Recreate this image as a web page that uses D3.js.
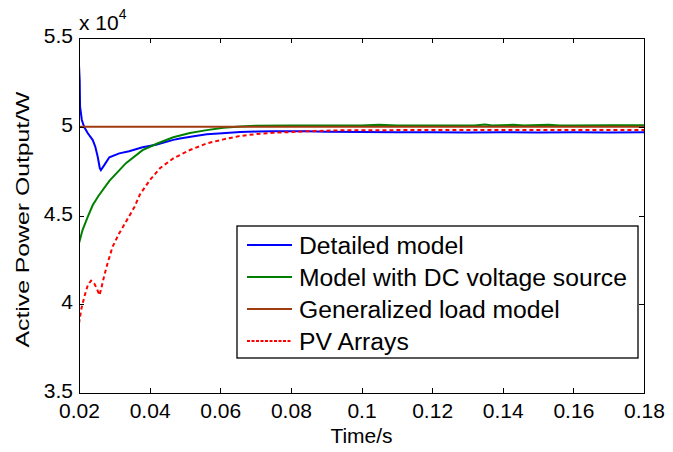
<!DOCTYPE html>
<html>
<head>
<style>
  body { margin: 0; background: #fff; }
  text { font-family: "Liberation Sans", Arial, sans-serif; fill: #000; }
  .axis path, .axis line { stroke: #000; shape-rendering: crispEdges; }
</style>
</head>
<body>
<script src="https://cdnjs.cloudflare.com/ajax/libs/d3/7.8.5/d3.min.js"></script>
<script>
// values (time in s, power in W)
var xTicks = [0.02, 0.04, 0.06, 0.08, 0.1, 0.12, 0.14, 0.16, 0.18];
var yTicks = [35000, 40000, 45000, 50000, 55000];
var yTickLabels = ["3.5", "4", "4.5", "5", "5.5"];

var detailed = [[0.02,53480],[0.0202,52600],[0.0203,51130],[0.0208,50380],[0.0215,49970],[0.0225,49630],
  [0.0239,49250],[0.0246,48880],[0.0253,48310],[0.0259,47660],[0.0262,47560],[0.0272,47850],[0.0286,48280],
  [0.0314,48500],[0.0342,48620],[0.038,48840],[0.0418,48990],[0.0467,49260],[0.0486,49340],[0.0525,49460],
  [0.0562,49580],[0.0606,49640],[0.0656,49700],[0.0705,49730],[0.075,49750],[0.0845,49740],[0.09,49720],
  [0.1,49700],[0.11,49690],[0.12,49690],[0.13,49680],[0.14,49690],[0.15,49680],[0.16,49690],[0.17,49680],[0.18,49690]];

var dcSource = [[0.02,43430],[0.021,44180],[0.0225,44930],[0.0239,45590],[0.0255,46100],[0.0286,46950],
  [0.0333,47950],[0.038,48680],[0.042,49040],[0.0467,49410],[0.0514,49650],[0.0562,49810],[0.0609,49940],
  [0.0656,50010],[0.07,50050],[0.08,50070],[0.09,50070],[0.1,50070],[0.105,50110],[0.11,50070],[0.12,50070],
  [0.132,50070],[0.135,50120],[0.137,50070],[0.143,50110],[0.146,50070],[0.153,50110],[0.156,50070],
  [0.16,50070],[0.17,50080],[0.18,50080]];

var loadModel = [[0.02,50000],[0.18,50000]];

var pvArrays = [[0.02,38920],[0.0206,39680],[0.0215,40420],[0.0225,41080],[0.0234,41330],[0.0243,41180],
  [0.025,40900],[0.0258,40520],[0.0262,40800],[0.0272,41650],[0.0281,42310],[0.0295,43240],[0.0314,44000],
  [0.0333,44650],[0.0357,45480],[0.0373,46200],[0.0401,47000],[0.0429,47660],[0.0467,48220],[0.0514,48690],
  [0.0562,49060],[0.0609,49290],[0.0656,49480],[0.0703,49590],[0.075,49660],[0.0845,49740],[0.094,49800],
  [0.11,49810],[0.13,49810],[0.15,49810],[0.18,49820]];

var series = [
  {name: "Detailed model", data: detailed, color: "#0000ff", dash: null},
  {name: "Model with DC voltage source", data: dcSource, color: "#008000", dash: null},
  {name: "Generalized load model", data: loadModel, color: "#a03a10", dash: null},
  {name: "PV Arrays", data: pvArrays, color: "#ff0000", dash: "4,3"}
];

var margin = {top: 38, right: 29, bottom: 59, left: 79},
    width = 673 - margin.left - margin.right,
    height = 452 - margin.top - margin.bottom;

var svg = d3.select("body").append("svg")
    .attr("width", 673).attr("height", 452)
  .append("g")
    .attr("transform", "translate(" + margin.left + "," + margin.top + ")");

var x = d3.scaleLinear().domain([0.02, 0.18]).range([0, width]);
var y = d3.scaleLinear().domain([35000, 55000]).range([height, 0]);

// clip so the lines stay in the box
svg.append("clipPath").attr("id", "clip")
  .append("rect").attr("width", width).attr("height", height);

var line = d3.line()
    .x(function(d) { return x(d[0]); })
    .y(function(d) { return y(d[1]); });

svg.selectAll(".series")
    .data(series)
  .enter().append("path")
    .attr("class", "series")
    .attr("clip-path", "url(#clip)")
    .attr("fill", "none")
    .attr("stroke", function(d) { return d.color; })
    .attr("stroke-width", 2)
    .attr("stroke-dasharray", function(d) { return d.dash; })
    .attr("d", function(d) { return line(d.data); });

// axes: ticks inside the box on all sides
var fmtX = function(d) { return d3.format("")(+d.toFixed(2)); };

svg.append("g").attr("class", "axis")
    .attr("transform", "translate(0," + height + ")")
    .call(d3.axisBottom(x).tickValues(xTicks).tickSizeInner(-5).tickSizeOuter(0).tickPadding(10).tickFormat(fmtX))
    .selectAll("text").style("font-size", "21px");

svg.append("g").attr("class", "axis")
    .call(d3.axisTop(x).tickValues(xTicks).tickSizeInner(-5).tickSizeOuter(0).tickFormat(""));

svg.append("g").attr("class", "axis")
    .call(d3.axisLeft(y).tickValues(yTicks).tickSizeInner(-5).tickSizeOuter(0).tickPadding(6)
      .tickFormat(function(d, i) { return yTickLabels[i]; }))
    .selectAll("text").style("font-size", "21px").attr("dy", "0.22em");

svg.append("g").attr("class", "axis")
    .attr("transform", "translate(" + width + ",0)")
    .call(d3.axisRight(y).tickValues(yTicks).tickSizeInner(-5).tickSizeOuter(0).tickFormat(""));

svg.selectAll(".axis .domain").attr("stroke-width", 1.3);

// exponent label
var expo = svg.append("text").attr("x", 0).attr("y", -8).style("font-size", "21px");
expo.append("tspan").text("x 10");
expo.append("tspan").attr("dy", -11).style("font-size", "14px").text("4");

svg.append("text")
    .attr("x", width / 2).attr("y", height + 50)
    .attr("text-anchor", "middle")
    .style("font-size", "21px")
    .text("Time/s");

svg.append("text")
    .attr("transform", "translate(-50," + (height / 2 + 4) + ") rotate(-90)")
    .attr("text-anchor", "middle")
    .style("font-size", "19px")
    .attr("textLength", 256)
    .attr("lengthAdjust", "spacingAndGlyphs")
    .text("Active Power Output/W");

// legend
var lg = svg.append("g").attr("transform", "translate(" + (237 - margin.left) + "," + (226 - margin.top) + ")");
lg.append("rect").attr("width", 401).attr("height", 132)
    .attr("fill", "#fff").attr("stroke", "#000").attr("stroke-width", 1.3);

var item = lg.selectAll(".item").data(series).enter().append("g")
    .attr("transform", function(d, i) { return "translate(0," + (19 + i * 32) + ")"; });
item.append("line")
    .attr("x1", 10).attr("x2", 55)
    .attr("stroke", function(d) { return d.color; })
    .attr("stroke-width", 2)
    .attr("stroke-dasharray", function(d) { return d.dash ? "3,1.5" : null; });
item.append("text")
    .attr("x", 62).attr("dy", "0.36em")
    .style("font-size", "24.7px")
    .text(function(d) { return d.name; });
</script>
</body>
</html>
